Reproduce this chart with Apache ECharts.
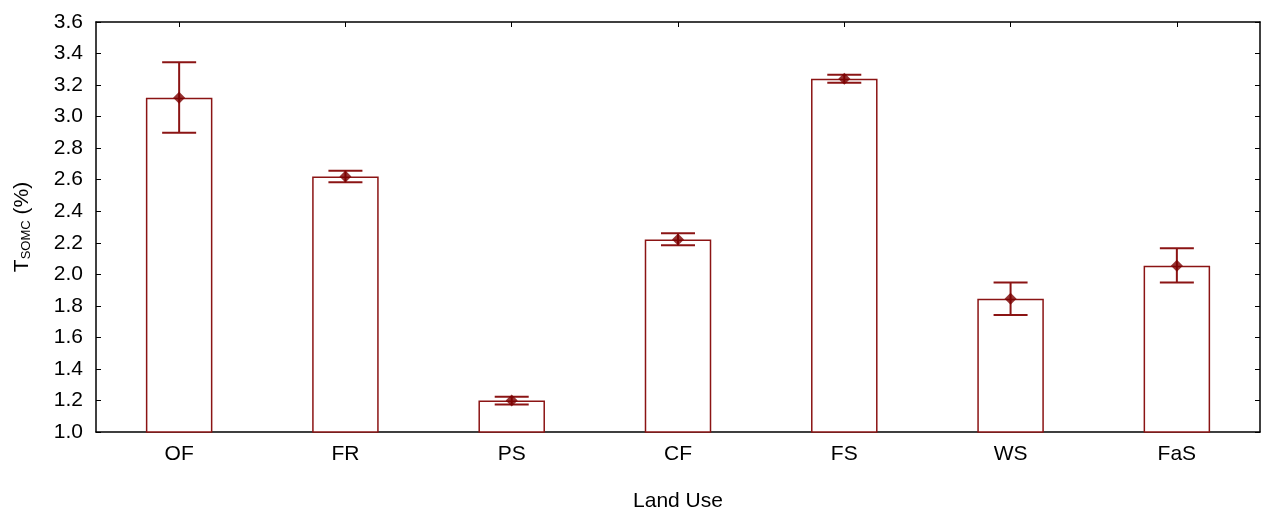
<!DOCTYPE html>
<html>
<head>
<meta charset="utf-8">
<script src="https://cdn.jsdelivr.net/npm/echarts@6/dist/echarts.min.js"></script>
<style>
html,body{margin:0;padding:0;background:#fff;overflow:hidden;}
#chart{width:1262px;height:517px;}
</style>
</head>
<body>
<div id="chart"></div>
<script>
var categories = ['OF', 'FR', 'PS', 'CF', 'FS', 'WS', 'FaS'];
var means = [3.12, 2.62, 1.20, 2.22, 3.24, 1.845, 2.055];
var upper = [3.345, 2.657, 1.223, 2.26, 3.265, 1.948, 2.165];
var lower = [2.898, 2.583, 1.175, 2.185, 3.215, 1.742, 1.948];
var yTicks = [1.0, 1.2, 1.4, 1.6, 1.8, 2.0, 2.2, 2.4, 2.6, 2.8, 3.0, 3.2, 3.4, 3.6];

var red = '#8B1414';
var font = 'Liberation Sans, Arial, sans-serif';
var fs = 21;
var chart = echarts.init(document.getElementById('chart'));

var errData = categories.map(function (c, i) { return [i, lower[i], upper[i]]; });
var ptData = categories.map(function (c, i) { return [i, means[i]]; });

chart.setOption({
  animation: false,
  grid: { left: 96, right: 2, top: 22, bottom: 76, containLabel: false },
  xAxis: [{
    type: 'category', data: categories, position: 'bottom',
    name: 'Land Use', nameLocation: 'middle', nameGap: 59,
    nameTextStyle: { fontFamily: font, fontSize: fs, color: '#000' },
    axisLine: { show: true, lineStyle: { color: '#000', width: 1.5 } },
    axisTick: { show: true, alignWithLabel: true, inside: true, length: 5, lineStyle: { color: '#000' } },
    axisLabel: { fontFamily: font, fontSize: fs, color: '#000', margin: 12 },
    splitLine: { show: false }
  }, {
    type: 'category', data: categories, position: 'top',
    axisLine: { show: true, lineStyle: { color: '#000', width: 1.5 } },
    axisTick: { show: true, alignWithLabel: true, inside: true, length: 5, lineStyle: { color: '#000' } },
    axisLabel: { show: false }, splitLine: { show: false }
  }],
  yAxis: [{
    type: 'value', min: 1.0, max: 3.6, interval: 0.2, position: 'left',
    name: '{m|T}{s|SOMC}{m| (%)}', nameLocation: 'middle', nameGap: 63, nameRotate: 90,
    nameTextStyle: {
      rich: {
        m: { fontFamily: font, fontSize: fs, color: '#000' },
        s: { fontFamily: font, fontSize: 13, color: '#000', padding: [9, 0, 0, 0] }
      }
    },
    axisLine: { show: true, lineStyle: { color: '#000', width: 1.5 } },
    axisTick: { show: true, inside: true, length: 5, lineStyle: { color: '#000' } },
    axisLabel: { fontFamily: font, fontSize: fs, color: '#000', margin: 13,
      formatter: function (v) { return v.toFixed(1); } },
    splitLine: { show: false }
  }, {
    type: 'value', min: 1.0, max: 3.6, interval: 0.2, position: 'right',
    axisLine: { show: true, lineStyle: { color: '#000', width: 1.5 } },
    axisTick: { show: true, inside: true, length: 5, lineStyle: { color: '#000' } },
    axisLabel: { show: false }, splitLine: { show: false }
  }],
  series: [{
    type: 'bar', data: means, barWidth: '40%',
    itemStyle: { color: '#fff', borderColor: red, borderWidth: 1.5 },
    z: 2
  }, {
    type: 'custom', data: errData, z: 3,
    renderItem: function (params, api) {
      var x = api.value(0);
      var lo = api.coord([x, api.value(1)]);
      var hi = api.coord([x, api.value(2)]);
      var hw = 17;
      var st = { stroke: red, lineWidth: 2 };
      return { type: 'group', children: [
        { type: 'line', shape: { x1: lo[0], y1: lo[1], x2: hi[0], y2: hi[1] }, style: st },
        { type: 'line', shape: { x1: lo[0] - hw, y1: lo[1], x2: lo[0] + hw, y2: lo[1] }, style: st },
        { type: 'line', shape: { x1: hi[0] - hw, y1: hi[1], x2: hi[0] + hw, y2: hi[1] }, style: st }
      ]};
    }
  }, {
    type: 'scatter', data: ptData, symbol: 'diamond', symbolSize: 12, z: 4,
    itemStyle: { color: '#7A0000' }
  }]
});
</script>
</body>
</html>
